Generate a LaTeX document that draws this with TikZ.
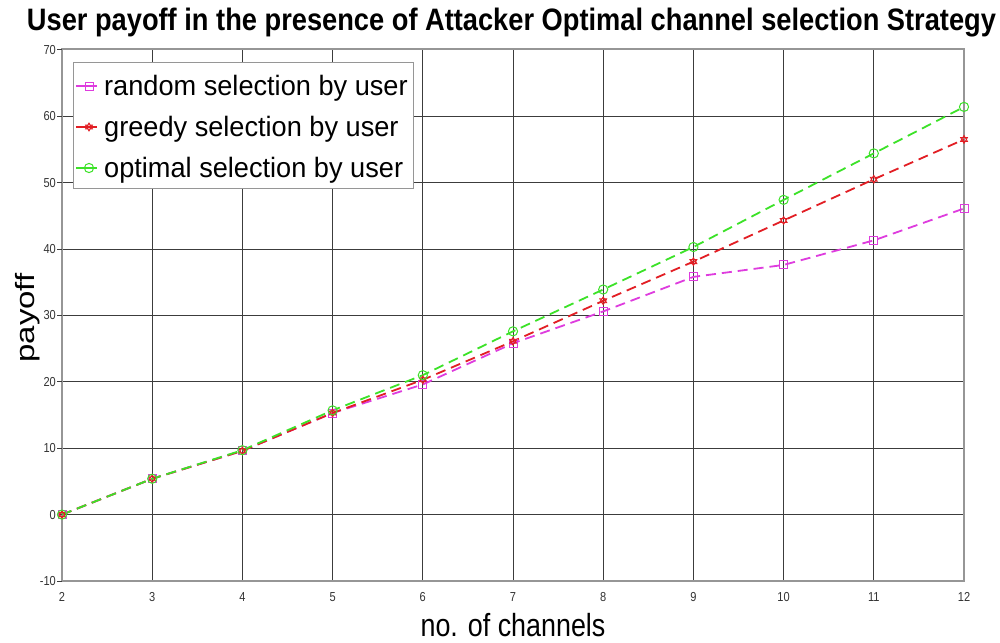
\documentclass[tikz,border=0pt]{standalone}
\usepackage{fontspec}
\setmainfont{Liberation Sans}
\usepackage{graphicx}
\definecolor{cmag}{RGB}{222,60,222}
\definecolor{cred}{RGB}{226,30,36}
\definecolor{cgrn}{RGB}{60,226,40}
\definecolor{cgrid}{RGB}{60,60,60}
\definecolor{cframe}{RGB}{150,150,150}
\tikzset{
  gridline/.style={draw=cgrid, line width=0.9pt},
  frameline/.style={draw=cframe, line width=2pt},
  dataline/.style={line width=1.8pt, dash pattern=on 10pt off 6pt},
  ticklab/.style={font=\fontsize{13}{13}\selectfont, text=black!80, inner sep=0pt},
  leglab/.style={font=\fontsize{28}{28}\selectfont, anchor=base west, inner sep=0pt},
}
\newcommand{\sqmark}[1]{\draw[cmag, line width=1pt] ($(#1)+(-4,-4)$) rectangle ($(#1)+(4,4)$);}
\newcommand{\cirmark}[1]{\draw[cgrn, line width=1pt] (#1) circle[radius=4.6pt];}
\newcommand{\hexmark}[1]{\draw[cred, line width=0.8pt] ($(#1)+(0,-4)$) -- ($(#1)+(3.5,2)$) -- ($(#1)+(-3.5,2)$) -- cycle ($(#1)+(0,4)$) -- ($(#1)+(3.5,-2)$) -- ($(#1)+(-3.5,-2)$) -- cycle;}
\usetikzlibrary{calc}
\begin{document}
\begin{tikzpicture}[x=1pt,y=-1pt]
\useasboundingbox (0,0) rectangle (1000,642);
\fill[white] (0,0) rectangle (1000,642);
% grid
\foreach \n in {3,...,11} {
  \draw[gridline] ({62+90.2*(\n-2)},49) -- ({62+90.2*(\n-2)},581);
}
\foreach \v in {0,10,...,60} {
  \draw[gridline] (62,{514.6-6.64*\v}) -- (964,{514.6-6.64*\v});
}
% frame
\draw[frameline] (62,49) rectangle (964,581);
% y ticks and labels
\foreach \v in {-10,0,10,...,70} {
  \draw[cgrid, line width=0.9pt] (57,{514.6-6.64*\v}) -- (62,{514.6-6.64*\v});
  \node[ticklab, anchor=east] (yl\v) at (56,{514.6-6.64*\v}) {\scalebox{0.85}[1]{\v}};
}
\foreach \n in {2,...,12} {
  \node[ticklab, anchor=north] (xl\n) at ({62+90.2*(\n-2)},592) {\scalebox{0.85}[1]{\n}};
}
% data
\foreach \n/\v in {2/0,3/5.4,4/9.6,5/15.3,6/19.6,7/25.8,8/30.6,9/35.8,10/37.6,11/41.3,12/46.1} {
  \coordinate (r\n) at ({62+90.2*(\n-2)},{514.6-6.64*\v});
}
\foreach \n/\v in {2/0,3/5.4,4/9.6,5/15.3,6/20.3,7/26.1,8/32.2,9/38.1,10/44.3,11/50.5,12/56.5} {
  \coordinate (g\n) at ({62+90.2*(\n-2)},{514.6-6.64*\v});
}
\foreach \n/\v in {2/0,3/5.4,4/9.7,5/15.7,6/21.0,7/27.6,8/33.9,9/40.3,10/47.4,11/54.4,12/61.4} {
  \coordinate (o\n) at ({62+90.2*(\n-2)},{514.6-6.64*\v});
}
\draw[dataline, cmag] (r2) -- (r3) -- (r4) -- (r5) -- (r6) -- (r7) -- (r8) -- (r9) -- (r10) -- (r11) -- (r12);
\draw[dataline, cred] (g2) -- (g3) -- (g4) -- (g5) -- (g6) -- (g7) -- (g8) -- (g9) -- (g10) -- (g11) -- (g12);
\draw[dataline, cgrn] (o2) -- (o3) -- (o4) -- (o5) -- (o6) -- (o7) -- (o8) -- (o9) -- (o10) -- (o11) -- (o12);
\foreach \n in {2,...,12} { \sqmark{r\n} }
\foreach \n in {2,...,12} { \hexmark{g\n} }
\foreach \n in {2,...,12} { \cirmark{o\n} }
% legend
\draw[fill=white, draw=cframe, line width=1pt] (73,62) rectangle (413,188);
\coordinate (la) at (76,86); \coordinate (lb) at (97,86); \coordinate (lm) at (89,86);
\draw[cmag, line width=1.6pt] (la) -- (lb); \sqmark{lm}
\coordinate (la2) at (76,127); \coordinate (lb2) at (97,127); \coordinate (lm2) at (89,127);
\draw[cred, line width=1.6pt] (la2) -- (lb2); \hexmark{lm2}
\coordinate (la3) at (76,168); \coordinate (lb3) at (97,168); \coordinate (lm3) at (89,168);
\draw[cgrn, line width=1.6pt] (la3) -- (lb3); \cirmark{lm3}
\node[leglab] (t1) at (104,95) {\scalebox{0.97}[1]{random selection by user}};
\node[leglab] (t2) at (104,136) {\scalebox{0.97}[1]{greedy selection by user}};
\node[leglab] (t3) at (104,177) {\scalebox{0.97}[1]{optimal selection by user}};
% titles
\node[font=\fontsize{31}{31}\selectfont\bfseries, anchor=base, inner sep=0pt] (title) at (511.5,31) {\scalebox{0.879}[1]{User payoff in the presence of Attacker Optimal channel selection Strategy}};
\node[font=\fontsize{32}{32}\selectfont, anchor=base, inner sep=0pt] (xlab) at (513,636) {\scalebox{0.84}[1]{no. of channels}};
\node[font=\fontsize{33}{33}\selectfont, anchor=base, rotate=90, inner sep=0pt] (ylab) at (34,318) {\scalebox{1}[0.8]{payoff}};
\end{tikzpicture}
\end{document}
